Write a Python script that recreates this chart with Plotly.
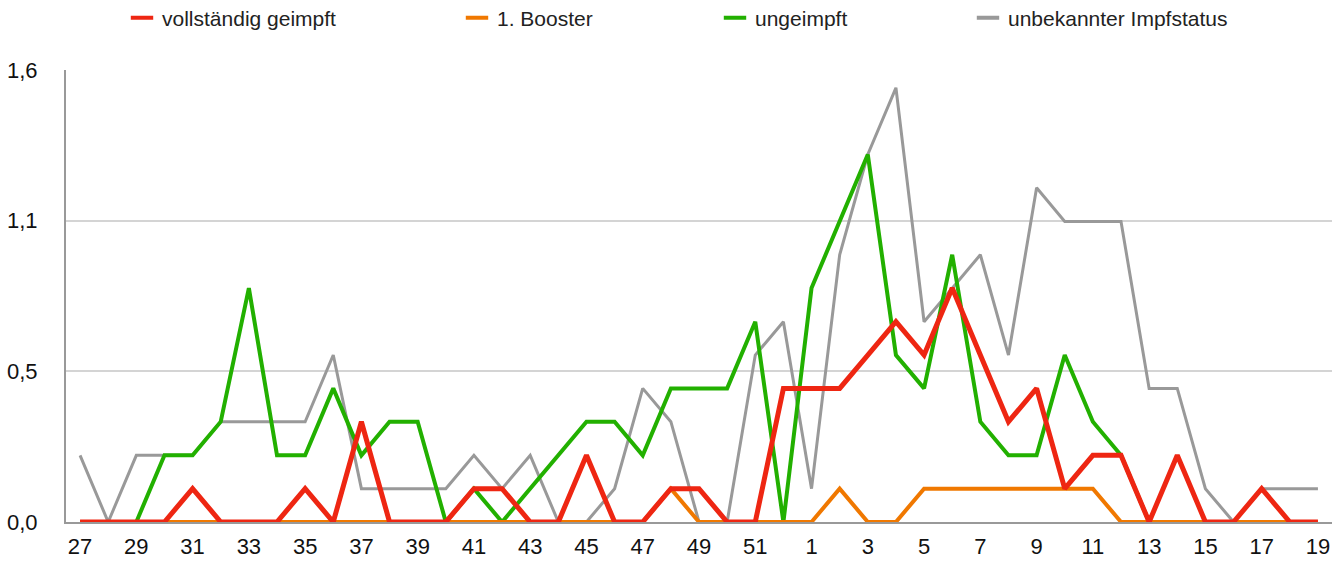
import plotly.graph_objects as go

weeks = [str(w) for w in list(range(27, 53)) + list(range(1, 20))]

vollstaendig = [0, 0, 0, 0, 0.118, 0, 0, 0, 0.118, 0, 0.355, 0, 0, 0, 0.118, 0.118, 0, 0, 0.236, 0, 0,
                0.118, 0.118, 0, 0, 0.473,
                0.473, 0.473, 0.591, 0.709, 0.591, 0.828, 0.591, 0.355, 0.473, 0.118, 0.236, 0.236, 0,
                0.236, 0, 0, 0.118, 0, 0]
booster = [0] * 21 + [0.118, 0, 0, 0, 0,
           0, 0.118, 0, 0, 0.118, 0.118, 0.118, 0.118, 0.118, 0.118, 0.118, 0, 0, 0, 0, 0, 0, 0, 0]
ungeimpft = [0, 0, 0, 0.236, 0.236, 0.355, 0.828, 0.236, 0.236, 0.473, 0.236, 0.355, 0.355, 0, 0.118,
             0, 0.118, 0.236, 0.355, 0.355, 0.236, 0.473, 0.473, 0.473, 0.709, 0,
             0.828, 1.064, 1.301, 0.591, 0.473, 0.946, 0.355, 0.236, 0.236, 0.591, 0.355, 0.236, 0,
             0, 0, 0, 0, 0, 0]
unbekannt = [0.236, 0, 0.236, 0.236, 0.236, 0.355, 0.355, 0.355, 0.355, 0.591, 0.118, 0.118, 0.118,
             0.118, 0.236, 0.118, 0.236, 0, 0, 0.118, 0.473, 0.355, 0, 0, 0.591, 0.709,
             0.118, 0.946, 1.301, 1.537, 0.709, 0.828, 0.946, 0.591, 1.183, 1.064, 1.064, 1.064,
             0.473, 0.473, 0.118, 0, 0.118, 0.118, 0.118]

y_ticks = [0, 1.6 / 3, 3.2 / 3, 1.6]
y_tick_text = ["0,0", "0,5", "1,1", "1,6"]
x_tick_labels = weeks[::2]

names = ["vollständig geimpft", "1. Booster", "ungeimpft", "unbekannter Impfstatus"]
colors = ["#ee2612", "#f07800", "#22b000", "#999999"]
widths = [5, 4, 4, 3]
series = [vollstaendig, booster, ungeimpft, unbekannt]

fig = go.Figure()
# draw order: gray, green, orange, red on top
for idx in [3, 2, 1, 0]:
    fig.add_trace(go.Scatter(
        x=weeks, y=series[idx], mode="lines", name=names[idx],
        line=dict(color=colors[idx], width=widths[idx]),
        showlegend=False, hoverinfo="x+y+name"))

legend_names = ["legend", "legend2", "legend3", "legend4"]
text_starts = [162, 497, 755, 1008]
plot_left, plot_w = 66, 1266
for i in range(4):
    fig.add_trace(go.Scatter(
        x=[None], y=[None], mode="markers", name=names[i],
        marker=dict(symbol="line-ew", size=18, color=colors[i],
                    line=dict(color=colors[i], width=4)),
        showlegend=True, legend=legend_names[i]))

layout_legends = {}
for i, ln in enumerate(legend_names):
    layout_legends[ln] = dict(
        x=(text_starts[i] - 40 - plot_left) / plot_w, xanchor="left",
        y=(522 - 18) / 452, yanchor="middle",
        orientation="h", bgcolor="rgba(0,0,0,0)",
        font=dict(family="Liberation Sans, Arial, sans-serif", size=21, color="#222222"),
        itemclick=False, itemdoubleclick=False)

fig.update_layout(
    width=1344, height=562,
    margin=dict(l=66, r=12, t=70, b=40, autoexpand=False),
    paper_bgcolor="white", plot_bgcolor="white",
    font=dict(family="Liberation Sans, Arial, sans-serif", size=20, color="#222222"),
    xaxis=dict(type="category", categoryorder="array", categoryarray=weeks,
               range=[-0.5, len(weeks) - 0.5],
               tickmode="array", tickvals=x_tick_labels, ticktext=x_tick_labels,
               showgrid=False, zeroline=False, showline=True, linecolor="#999999", linewidth=2,
               ticks="", tickfont=dict(size=22, color="#111111"), ticklabelstandoff=4,
               automargin=False),
    yaxis=dict(range=[0, 1.6], tickmode="array", tickvals=y_ticks, ticktext=y_tick_text,
               showgrid=True, gridcolor="#d4d4d4", gridwidth=2, zeroline=False,
               showline=True, linecolor="#999999", linewidth=2, ticks="",
               tickfont=dict(size=22, color="#111111"), ticklabelstandoff=22,
               automargin=False),
    **layout_legends,
)

fig.write_html("out.html", config={"displayModeBar": False},
               post_script="document.body.style.margin='0px';document.body.style.overflow='hidden';")
